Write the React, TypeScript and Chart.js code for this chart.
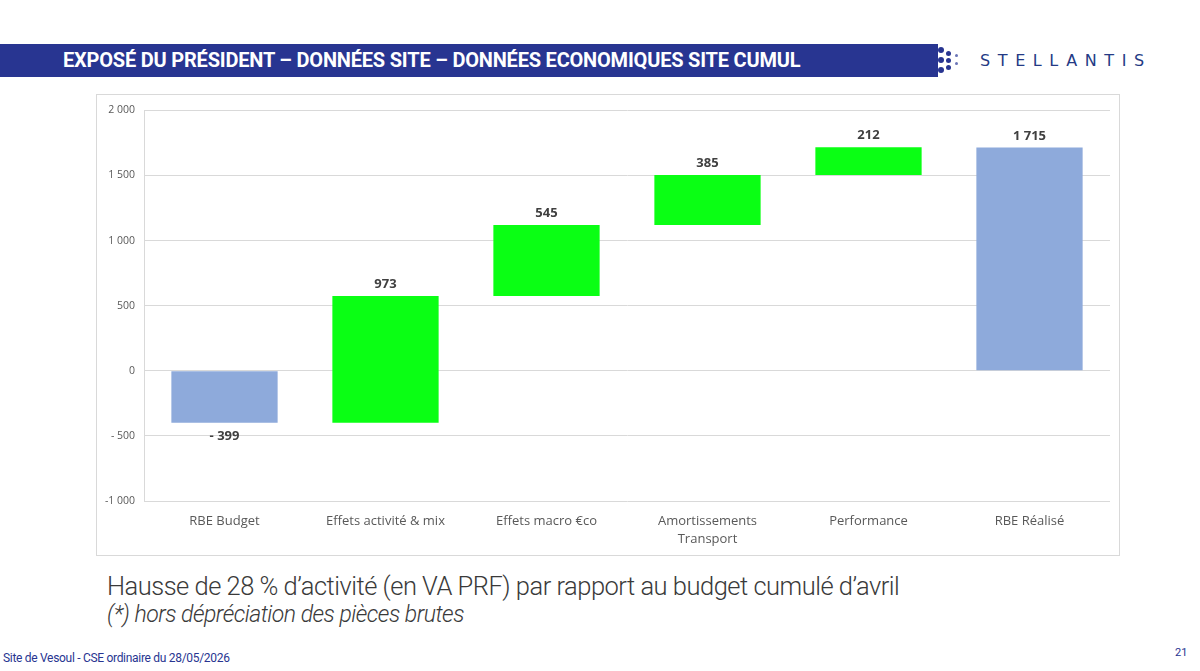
import React, { useEffect, useRef } from "react";
import { Chart, registerables } from "chart.js";

Chart.register(...registerables);

const categories: (string | string[])[] = [
  "RBE Budget",
  "Effets activité & mix",
  "Effets macro €co",
  ["Amortissements", "Transport"],
  "Performance",
  "RBE Réalisé",
];
const barStarts = [0, -399, 574, 1119, 1504, 0];
const barEnds = [-399, 574, 1119, 1504, 1716, 1715];
const valueLabels = ["- 399", "973", "545", "385", "212", "1 715"];
const labelBelow = [true, false, false, false, false, false];
const barKinds = ["total", "delta", "delta", "delta", "delta", "total"];
const yTickValues = [2000, 1500, 1000, 500, 0, -500, -1000];
const yTickLabels = ["2 000", "1 500", "1 000", "500", "0", "- 500", "-1 000"];

const BLUE = "#8eaadb";
const GREEN = "#0aff14";

const labelPlugin = {
  id: "valueLabels",
  afterDatasetsDraw(chart: any) {
    const ctx = chart.ctx;
    const meta = chart.getDatasetMeta(0);
    ctx.save();
    ctx.font = "bold 13px 'Open Sans'";
    ctx.fillStyle = "#404040";
    ctx.textAlign = "center";
    meta.data.forEach((bar: any, i: number) => {
      const top = Math.min(bar.y, bar.base);
      const bottom = Math.max(bar.y, bar.base);
      if (labelBelow[i]) {
        ctx.textBaseline = "top";
        ctx.fillText(valueLabels[i], bar.x, bottom + 7);
      } else {
        ctx.textBaseline = "bottom";
        ctx.fillText(valueLabels[i], bar.x, top - 5);
      }
    });
    ctx.restore();
  },
};

function WaterfallChart() {
  const ref = useRef<HTMLCanvasElement>(null);
  useEffect(() => {
    if (!ref.current) return;
    const chart = new Chart(ref.current, {
      type: "bar",
      data: {
        labels: categories,
        datasets: [
          {
            data: barStarts.map((s, i) => [s, barEnds[i]]) as any,
            backgroundColor: barKinds.map((k) => (k === "total" ? BLUE : GREEN)),
            borderWidth: 0,
            barPercentage: 0.66,
            categoryPercentage: 1,
          },
        ],
      },
      options: {
        animation: false,
        responsive: false,
        maintainAspectRatio: false,
        layout: { padding: { top: 14, right: 9, bottom: 0, left: 0 } },
        plugins: {
          legend: { display: false },
          tooltip: { enabled: false },
        },
        scales: {
          x: {
            grid: { display: false, drawTicks: false },
            border: { display: false },
            ticks: {
              color: "#595959",
              font: { family: "'Open Sans'", size: 13, lineHeight: 1.4 },
              padding: 11,
              maxRotation: 0,
              autoSkip: false,
            },
            afterFit(scale: any) {
              scale.height = 54;
            },
          },
          y: {
            min: -1000,
            max: 2000,
            afterBuildTicks(scale: any) {
              scale.ticks = yTickValues.map((v) => ({ value: v }));
            },
            grid: { color: "#d9d9d9", drawTicks: false, lineWidth: 1 },
            border: { display: true, color: "#d9d9d9" },
            ticks: {
              color: "#595959",
              font: { family: "'Open Sans'", size: 10.5 },
              padding: 9,
              callback: (v: any) => {
                const idx = yTickValues.indexOf(Number(v));
                return idx >= 0 ? yTickLabels[idx] : "";
              },
            },
            afterFit(scale: any) {
              scale.width = 47;
            },
          },
        },
      },
      plugins: [labelPlugin],
    });
    return () => chart.destroy();
  }, []);
  return <canvas ref={ref} width={1022} height={460} style={{ display: "block" }} />;
}

export default function App() {
  return (
    <div
      style={{
        position: "fixed",
        left: 0,
        top: 0,
        width: 1200,
        height: 671,
        background: "#ffffff",
        overflow: "hidden",
        fontFamily: "'Open Sans', sans-serif",
      }}
    >
      {/* header band */}
      <div
        style={{
          position: "absolute",
          left: 0,
          top: 44,
          width: 938,
          height: 33,
          background: "#283591",
        }}
      />
      {[0, 1, 2].map((i) => (
        <div
          key={i}
          style={{
            position: "absolute",
            left: 938,
            top: 47 + i * 10,
            width: 6,
            height: 6,
            borderRadius: 3,
            background: "#283591",
          }}
        />
      ))}
      {[0, 1, 2].map((i) => (
        <div
          key={"d" + i}
          style={{
            position: "absolute",
            left: 946,
            top: 51 + i * 7,
            width: 5,
            height: 5,
            borderRadius: 3,
            background: "#283591",
          }}
        />
      ))}
      {[0, 1].map((i) => (
        <div
          key={"s" + i}
          style={{
            position: "absolute",
            left: 955,
            top: 54 + i * 8,
            width: 3,
            height: 3,
            borderRadius: 2,
            background: "#6a74b6",
          }}
        />
      ))}
      <div
        style={{
          position: "absolute",
          left: 63,
          top: 46,
          height: 28,
          lineHeight: "28px",
          color: "#ffffff",
          fontFamily: "Roboto, sans-serif",
          fontWeight: 700,
          fontSize: 20,
          whiteSpace: "nowrap",
          letterSpacing: -0.2,
        }}
      >
        EXPOSÉ DU PRÉSIDENT – DONNÉES SITE – DONNÉES ECONOMIQUES SITE CUMUL
      </div>
      <div
        style={{
          position: "absolute",
          left: 980,
          top: 50,
          height: 22,
          lineHeight: "22px",
          color: "#243a85",
          fontFamily: "'DejaVu Sans', sans-serif",
          fontWeight: 400,
          fontSize: 16,
          letterSpacing: 7.6,
          whiteSpace: "nowrap",
        }}
      >
        STELLANTIS
      </div>

      {/* chart frame */}
      <div
        style={{
          position: "absolute",
          left: 96,
          top: 94,
          width: 1022,
          height: 460,
          border: "1px solid #d9d9d9",
        }}
      >
        <WaterfallChart />
      </div>

      {/* caption */}
      <div
        style={{
          position: "absolute",
          left: 107,
          top: 570,
          color: "#3a3a3a",
          fontFamily: "Roboto, sans-serif",
          fontWeight: 300,
          fontSize: 25.5,
          whiteSpace: "nowrap",
          lineHeight: "32px",
          letterSpacing: -0.5,
        }}
      >
        Hausse de 28 % d’activité (en VA PRF) par rapport au budget cumulé d’avril
      </div>
      <div
        style={{
          position: "absolute",
          left: 107,
          top: 601,
          color: "#3a3a3a",
          fontFamily: "Roboto, sans-serif",
          fontWeight: 300,
          fontStyle: "italic",
          fontSize: 23,
          whiteSpace: "nowrap",
          lineHeight: "28px",
          letterSpacing: -0.5,
        }}
      >
        (*) hors dépréciation des pièces brutes
      </div>

      {/* footer */}
      <div
        style={{
          position: "absolute",
          left: 3,
          top: 651,
          color: "#283591",
          fontFamily: "Roboto, sans-serif",
          fontSize: 12,
          whiteSpace: "nowrap",
          letterSpacing: -0.3,
        }}
      >
        Site de Vesoul - CSE ordinaire du 28/05/2026
      </div>
      <div
        style={{
          position: "absolute",
          left: 1175,
          top: 646,
          color: "#283591",
          fontFamily: "Roboto, sans-serif",
          fontSize: 11,
          whiteSpace: "nowrap",
        }}
      >
        21
      </div>
    </div>
  );
}
